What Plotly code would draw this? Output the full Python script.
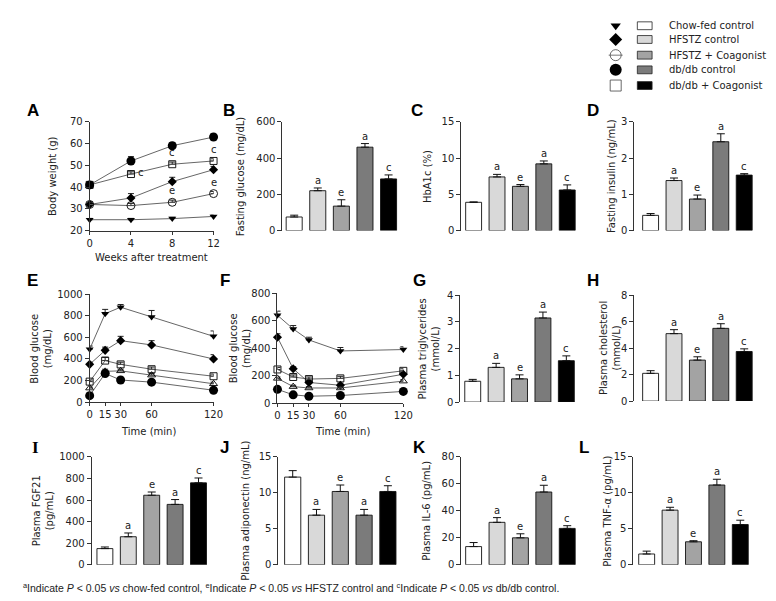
import plotly.graph_objects as go

W, H = 776, 601
def fx(p): return p / W
def fy(p): return 1 - p / H

# ---------------- data ----------------
groups = ["Chow-fed control", "HFSTZ control", "HFSTZ + Coagonist", "db/db control", "db/db + Coagonist"]
bar_colors = ["#ffffff", "#d9d9d9", "#a3a3a3", "#7b7b7b", "#000000"]
sig_letters = ["", "a", "e", "a", "c"]

weeks = [0, 4, 8, 12]
bw_chow = [25, 25, 25.5, 26.5]
bw_chow_err = [0.6, 0.6, 0.6, 0.6]
bw_hf = [32, 35, 42.5, 48]
bw_hf_err = [1.2, 2, 2, 1.5]
bw_hfco = [32, 31.5, 33, 37]
bw_hfco_err = [1, 1, 1, 1]
bw_db = [41, 52, 59, 63]
bw_db_err = [1, 2, 1.5, 1.5]
bw_dbco = [41, 46, 50.5, 52]
bw_dbco_err = [1, 1, 1, 1]
bw_letters = [(4, 46, "c", "right"), (8, 50.5, "c", "above"), (8, 33, "e", "above"),
              (12, 52, "c", "above"), (12, 37, "e", "above")]

minutes = [0, 15, 30, 60, 120]
ogtt_chow = [490, 820, 880, 790, 610]
ogtt_chow_err = [30, 40, 25, 60, 50]
ogtt_hf = [350, 480, 570, 530, 400]
ogtt_hf_err = [20, 30, 40, 40, 40]
ogtt_hfco = [130, 285, 290, 250, 170]
ogtt_hfco_err = [10, 20, 15, 15, 15]
ogtt_db = [60, 265, 205, 185, 110]
ogtt_db_err = [10, 20, 15, 15, 15]
ogtt_dbco = [190, 385, 350, 305, 240]
ogtt_dbco_err = [15, 30, 20, 20, 20]

itt_chow = [640, 540, 460, 380, 390]
itt_chow_err = [30, 25, 20, 25, 20]
itt_hf = [480, 250, 150, 130, 210]
itt_hf_err = [25, 15, 15, 15, 15]
itt_hfco = [180, 120, 110, 110, 160]
itt_hfco_err = [10, 10, 10, 10, 10]
itt_db = [100, 60, 50, 55, 85]
itt_db_err = [10, 8, 8, 8, 8]
itt_dbco = [245, 190, 175, 180, 235]
itt_dbco_err = [15, 15, 15, 15, 15]

fasting_glucose = [75, 220, 135, 460, 285]
fasting_glucose_err = [10, 15, 35, 20, 22]
hba1c = [3.9, 7.4, 6.1, 9.2, 5.6]
hba1c_err = [0.05, 0.35, 0.25, 0.4, 0.7]
fasting_insulin = [0.42, 1.38, 0.87, 2.45, 1.53]
fasting_insulin_err = [0.05, 0.07, 0.11, 0.22, 0.04]
triglycerides = [0.78, 1.3, 0.87, 3.15, 1.55]
triglycerides_err = [0.07, 0.15, 0.15, 0.22, 0.18]
cholesterol = [2.1, 5.1, 3.1, 5.5, 3.75]
cholesterol_err = [0.2, 0.3, 0.25, 0.35, 0.2]
fgf21 = [150, 260, 645, 560, 760]
fgf21_err = [15, 35, 30, 45, 45]
adiponectin = [12.2, 6.9, 10.2, 6.9, 10.2]
adiponectin_err = [0.9, 0.8, 0.9, 0.8, 0.8]
il6 = [13.5, 31.5, 20, 54, 27]
il6_err = [3, 3.5, 3, 5, 2]
tnfa = [1.5, 7.6, 3.2, 11.1, 5.6]
tnfa_err = [0.4, 0.4, 0.15, 0.8, 0.6]

# ---------------- figure ----------------
fig = go.Figure()
layout = dict(width=W, height=H, margin=dict(l=0, r=0, t=0, b=0),
              plot_bgcolor="rgba(0,0,0,0)", paper_bgcolor="white", showlegend=False)
annotations = []
shapes = []
TICKFONT = dict(family="DejaVu Sans", size=10, color="#222")
TITLEFONT = dict(family="DejaVu Sans", size=10, color="#222")
LETTERFONT = dict(family="DejaVu Sans", size=10, color="#222")

def sfx(n): return "" if n == 1 else str(n)

def yaxis_cfg(n, top, bot, rng, tickvals):
    return dict(domain=[fy(bot), fy(top)], range=rng, anchor=f"x{sfx(n)}", showline=True,
                linecolor="#333", linewidth=1, ticks="outside", ticklen=4, tickwidth=1,
                tickcolor="#333", tickvals=tickvals, showgrid=False, zeroline=False,
                tickfont=TICKFONT, fixedrange=True)

def paper_text(px, py, text, font=TITLEFONT, angle=0, xanchor="center"):
    annotations.append(dict(x=fx(px), y=fy(py), xref="paper", yref="paper", text=text,
                            textangle=angle, showarrow=False, font=font,
                            xanchor=xanchor, yanchor="middle"))

def ytitle(px, pyc, text):
    paper_text(px, pyc, text, angle=-90)

def panel_label(px, py, text, serif=False):
    paper_text(px, py, f"<b>{text}</b>",
               font=dict(family="Liberation Serif" if serif else "Liberation Sans", size=17, color="#000"))

def bar_panel(n, vals, errs, axis_px, c0, pitch, top, bot, rng, tickvals, title, tx, label, lx, ly, serif=False):
    s = sfx(n)
    lo = -(c0 - axis_px) / pitch
    span = 5.3
    layout[f"xaxis{s}"] = dict(domain=[fx(axis_px), fx(axis_px + pitch * span)], range=[lo, lo + span],
                               anchor=f"y{s}", showline=False, showticklabels=False, ticks="",
                               showgrid=False, zeroline=False, fixedrange=True)
    layout[f"yaxis{s}"] = yaxis_cfg(n, top, bot, rng, tickvals)
    fig.add_trace(go.Bar(x=list(range(5)), y=vals, width=0.68, xaxis=f"x{s}", yaxis=f"y{s}",
                         marker=dict(color=bar_colors, line=dict(color="#111", width=0.9)),
                         error_y=dict(type="data", array=errs, arrayminus=[0] * 5, symmetric=False,
                                      color="#111", thickness=1, width=4)))
    for i in range(5):
        if sig_letters[i]:
            annotations.append(dict(x=i, y=vals[i] + errs[i], xref=f"x{s}", yref=f"y{s}",
                                    text=sig_letters[i], showarrow=False, yanchor="bottom",
                                    xanchor="center", yshift=0, font=LETTERFONT))
    ytitle(tx, (top + bot) / 2, title)
    panel_label(lx, ly, label, serif)

def line_panel(n, xs, series, x_px0, x_px1, xrng, xticks, top, bot, yrng, yticks):
    s = sfx(n)
    layout[f"xaxis{s}"] = dict(domain=[fx(x_px0), fx(x_px1)], range=xrng, anchor=f"y{s}",
                               showline=True, linecolor="#333", linewidth=1, ticks="outside",
                               ticklen=3, tickwidth=1, tickcolor="#333", tickvals=xticks,
                               showgrid=False, zeroline=False, tickfont=TICKFONT, fixedrange=True)
    layout[f"yaxis{s}"] = yaxis_cfg(n, top, bot, yrng, yticks)
    for ys, es, sym, size, lw in series:
        fig.add_trace(go.Scatter(x=xs, y=ys, mode="lines+markers", xaxis=f"x{s}", yaxis=f"y{s}",
                                 cliponaxis=False,
                                 line=dict(color="#555", width=0.9),
                                 marker=dict(symbol=sym, size=size, color="black",
                                             line=dict(color="black", width=lw)),
                                 error_y=dict(type="data", array=es, arrayminus=[0] * len(es), symmetric=False,
                                              color="#222", thickness=1, width=3)))

# A - body weight
line_panel(1, weeks, [
    (bw_chow, bw_chow_err, "triangle-down", 7, 0),
    (bw_hf, bw_hf_err, "diamond", 7, 0),
    (bw_hfco, bw_hfco_err, "circle-open", 8, 0.9),
    (bw_dbco, bw_dbco_err, "square-open", 7, 0.9),
    (bw_db, bw_db_err, "circle", 9, 0),
], 80, 206, [0, 12], [0, 4, 8, 12], 110, 221, [20, 70], [20, 30, 40, 50, 60, 70])
for xv, yv, t, pos in bw_letters:
    if pos == "right":
        annotations.append(dict(x=xv, y=yv, xref="x", yref="y", text=t, showarrow=False,
                                xanchor="left", xshift=5, yshift=2, font=LETTERFONT))
    else:
        annotations.append(dict(x=xv, y=yv, xref="x", yref="y", text=t, showarrow=False,
                                yanchor="bottom", xanchor="center", yshift=4, font=LETTERFONT))
ytitle(42, 165, "Body weight (g)")
paper_text(143, 248, "Weeks after treatment")
panel_label(22, 98, "A")

# B, C, D
bar_panel(2, fasting_glucose, fasting_glucose_err, 276, 288, 24, 110, 221, [0, 600], [0, 200, 400, 600],
          "Fasting glucose (mg/dL)", 233, "B", 222, 98)
bar_panel(3, hba1c, hba1c_err, 458, 470.5, 23.8, 110, 221, [0, 15], [0, 5, 10, 15],
          "HbA1c (%)", 423, "C", 413, 98)
bar_panel(4, fasting_insulin, fasting_insulin_err, 634, 650.5, 23.8, 110, 221, [0, 3], [0, 1, 2, 3],
          "Fasting insulin (ng/mL)", 610, "D", 592, 98)

# E - OGTT
line_panel(5, minutes, [
    (ogtt_chow, ogtt_chow_err, "triangle-down", 7, 0),
    (ogtt_hf, ogtt_hf_err, "diamond", 7, 0),
    (ogtt_dbco, ogtt_dbco_err, "square-open", 7, 0.9),
    (ogtt_hfco, ogtt_hfco_err, "triangle-up-open", 7, 0.9),
    (ogtt_db, ogtt_db_err, "circle", 9, 0),
], 80, 206, [0, 120], [0, 15, 30, 60, 120], 286, 396, [0, 1000], [0, 200, 400, 600, 800, 1000])
ytitle(31, 341, "Blood glucose<br>(mg/dL)")
paper_text(140, 426, "Time (min)")
panel_label(22, 272, "E")

# F - ITT
line_panel(6, minutes, [
    (itt_chow, itt_chow_err, "triangle-down", 7, 0),
    (itt_hf, itt_hf_err, "diamond", 7, 0),
    (itt_dbco, itt_dbco_err, "square-open", 7, 0.9),
    (itt_hfco, itt_hfco_err, "triangle-up-open", 7, 0.9),
    (itt_db, itt_db_err, "circle", 9, 0),
], 271, 399, [0, 120], [0, 15, 30, 60, 120], 285, 397, [0, 800], [0, 200, 400, 600, 800])
ytitle(233, 341, "Blood glucose<br>(mg/dL)")
paper_text(337, 426, "Time (min)")
panel_label(218, 272, "F")

# G, H
bar_panel(7, triglycerides, triglycerides_err, 457, 469.6, 23.8, 287, 396, [0, 4], [0, 1, 2, 3, 4],
          "Plasma triglycerides<br>(mmol/L)", 425, "G", 415, 272)
bar_panel(8, cholesterol, cholesterol_err, 634, 650.5, 23.8, 287, 395, [0, 8], [0, 2, 4, 6, 8],
          "Plasma cholesterol<br>(mmol/L)", 609, "H", 592, 272)

# I, J, K, L
bar_panel(9, fgf21, fgf21_err, 82, 95.5, 23.8, 452, 562, [0, 1000], [0, 200, 400, 600, 800, 1000],
          "Plasma FGF21<br>(pg/mL)", 32, "I", 25, 442, serif=True)
bar_panel(10, adiponectin, adiponectin_err, 272, 286.5, 24.2, 452, 562, [0, 15], [0, 5, 10, 15],
          "Plasma adiponectin (ng/mL)", 239, "J", 217, 442)
bar_panel(11, il6, il6_err, 458, 470.5, 23.8, 452, 562, [0, 80], [0, 20, 40, 60, 80],
          "Plasma IL-6 (pg/mL)", 423, "K", 415, 442)
bar_panel(12, tnfa, tnfa_err, 633, 646.5, 23.8, 452, 562, [0, 15], [0, 5, 10, 15],
          "Plasma TNF-α (pg/mL)", 607, "L", 583, 442)

# ---------------- legend (drawn manually) ----------------
layout["xaxis13"] = dict(domain=[0, 1], range=[0, W], visible=False, fixedrange=True, anchor="y13")
layout["yaxis13"] = dict(domain=[0, 1], range=[H, 0], visible=False, fixedrange=True, anchor="x13")
leg_rows = [12, 26, 42, 57, 73]
leg_syms = [("triangle-down", 9, 0), ("diamond", 10, 0), ("circle-open", 11, 0.8),
            ("circle", 12, 0), ("square-open", 11, 0.8)]
for (sym, sz, lw), ry in zip(leg_syms, leg_rows):
    fig.add_trace(go.Scatter(x=[615], y=[ry], mode="markers", xaxis="x13", yaxis="y13", cliponaxis=False,
                             marker=dict(symbol=sym, size=sz, color="#444" if lw else "black",
                                         line=dict(color="#444", width=lw))))
fig.add_trace(go.Scatter(x=[615], y=[leg_rows[2]], mode="markers", xaxis="x13", yaxis="y13",
                         marker=dict(symbol="line-ew", size=10, color="#555", line=dict(color="#555", width=0.8))))
for c, ry, g in zip(bar_colors, leg_rows, groups):
    shapes.append(dict(type="rect", xref="x13", yref="y13", x0=637, x1=652, y0=ry - 4, y1=ry + 4,
                       fillcolor=c, line=dict(color="#222", width=0.8)))
    annotations.append(dict(x=667, y=ry, xref="x13", yref="y13", text=g, showarrow=False,
                            xanchor="left", yanchor="middle",
                            font=dict(family="DejaVu Sans", size=10, color="#222")))

# footnote
paper_text(10, 585,
           "<sup>a</sup>Indicate <i>P</i> < 0.05 <i>vs</i> chow-fed control, "
           "<sup>e</sup>Indicate <i>P</i> < 0.05 <i>vs</i> HFSTZ control and "
           "<sup>c</sup>Indicate <i>P</i> < 0.05 <i>vs</i> db/db control.",
           font=dict(family="Liberation Sans", size=10.5, color="#222"), xanchor="left")

layout["annotations"] = annotations
layout["shapes"] = shapes
fig.update_layout(**layout)
fig.write_html("out.html")
